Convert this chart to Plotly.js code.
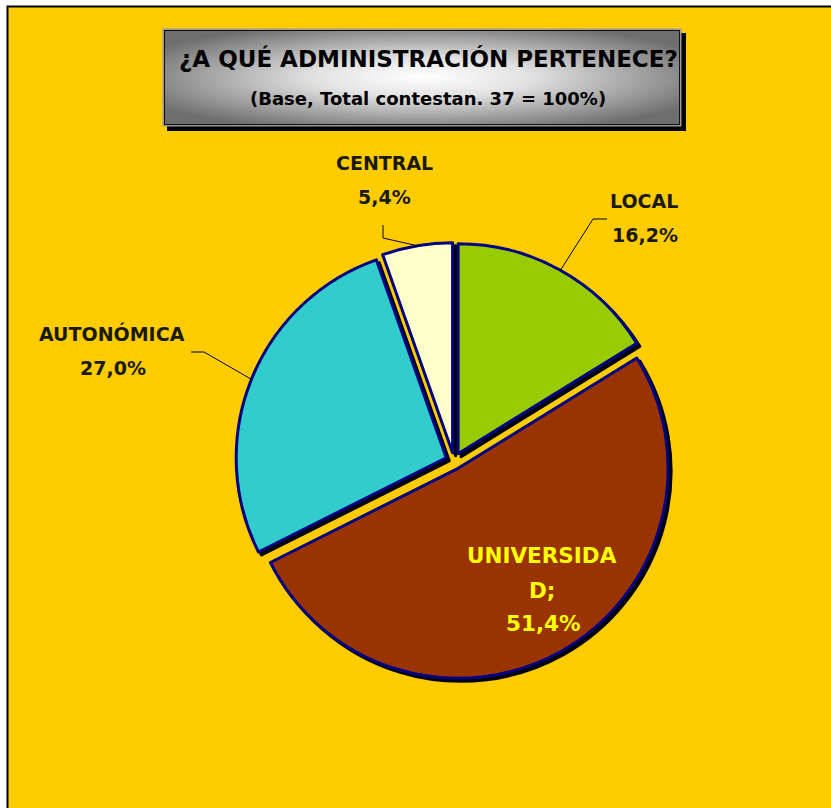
<!DOCTYPE html>
<html>
<head>
<meta charset="utf-8">
<script src="https://cdn.plot.ly/plotly-3.0.1.min.js"></script>
<style>
html,body{margin:0;padding:0;background:#ffffff;}
#chart{width:831px;height:808px;}
</style>
</head>
<body>
<div id="chart"></div>
<script>
// ---- data ----
const labels = ['LOCAL', 'UNIVERSIDAD', 'AUTONÓMICA', 'CENTRAL'];
const values = [16.2, 51.4, 27.0, 5.4];
const titleText = '¿A QUÉ ADMINISTRACIÓN PERTENECE?';
const subtitleText = '(Base, Total contestan. 37 = 100%)';

// ---- styles ----
const sliceColors = ['#99CC00', '#993300', '#33CCCC', '#FFFFCC'];
const W = 831, H = 808;
const FONT = 'DejaVu Sans, Verdana, sans-serif';

// pie geometry (pixels)
const CX = 454, CY = 461, R = 210, PULL = 0.04;
const boxHalf = R * (1 + PULL);
const dom = {
  x: [(CX - boxHalf) / W, (CX + boxHalf) / W],
  y: [1 - (CY + boxHalf) / H, 1 - (CY - boxHalf) / H]
};
const SH = 3; // shadow offset px
const domShadow = {
  x: [dom.x[0] + SH / W, dom.x[1] + SH / W],
  y: [dom.y[0] - SH / H, dom.y[1] - SH / H]
};

const pct = values.map(v => v.toFixed(1).replace('.', ',') + '%');

const px = x => x / W;
const py = y => 1 - y / H;

// edge point of each pulled slice at its bisector
const total = values.reduce((a, b) => a + b, 0);
let cum = 0;
const edge = values.map(v => {
  const mid = (cum + v / 2) / total * 2 * Math.PI; cum += v;
  const dx = Math.sin(mid), dy = -Math.cos(mid);
  const d = PULL * R;
  return [CX + dx * (d + R), CY + dy * (d + R)];
});

const shadowTrace = {
  type: 'pie', values: values, labels: labels, sort: false,
  direction: 'clockwise', rotation: 0, pull: PULL,
  domain: domShadow, textinfo: 'none', hoverinfo: 'skip', showlegend: false,
  marker: {colors: values.map(() => '#000000'), line: {color: '#000000', width: 3}}
};
const pieTrace = {
  type: 'pie', values: values, labels: labels, sort: false,
  direction: 'clockwise', rotation: 0, pull: PULL,
  domain: dom, textinfo: 'none', hoverinfo: 'label+percent', showlegend: false,
  marker: {colors: sliceColors, line: {color: '#000080', width: 3}}
};

// label annotations
const lab = (text, x, y, size, color) => ({
  text: '<b>' + text + '</b>', x: px(x), y: py(y), xref: 'paper', yref: 'paper',
  xanchor: 'center', yanchor: 'middle', showarrow: false,
  font: {family: FONT, size: size, color: color}
});
const uni = labels[1];
const annotations = [
  lab(titleText, 428, 59, 23, '#000000'),
  lab(subtitleText, 428, 98, 18, '#000000'),
  lab(labels[3], 384, 163, 19, '#1a1a00'),
  lab(pct[3], 384, 197, 19, '#1a1a00'),
  lab(labels[0], 644, 201, 19, '#1a1a00'),
  lab(pct[0], 645, 235, 19, '#1a1a00'),
  lab(labels[2], 112, 334, 19, '#1a1a00'),
  lab(pct[2], 113, 368, 19, '#1a1a00'),
  lab(uni.slice(0, 10), 542, 555, 21.5, '#FFFF00'),
  lab(uni.slice(10) + ';', 542, 590, 21.5, '#FFFF00'),
  lab(pct[1], 543, 623, 21.5, '#FFFF00')
];

const pathOf = pts => 'M ' + pts.map(p => px(p[0]) + ',' + py(p[1])).join(' L ');
const shapes = [
  {type: 'rect', xref: 'paper', yref: 'paper', layer: 'below',
   x0: px(7.5), x1: 1.02, y0: -0.02, y1: py(6.5),
   fillcolor: '#FFCC00', line: {color: '#000000', width: 2}},
  {type: 'path', xref: 'paper', yref: 'paper', layer: 'above',
   path: pathOf([[383, 225], [383, 238], edge[3]]), line: {color: '#000000', width: 1}},
  {type: 'path', xref: 'paper', yref: 'paper', layer: 'above',
   path: pathOf([[607, 219], [593, 219], edge[0]]), line: {color: '#000000', width: 1}},
  {type: 'path', xref: 'paper', yref: 'paper', layer: 'above',
   path: pathOf([[191, 352], [204, 352], edge[2]]), line: {color: '#000000', width: 1}}
];

// title box (gradient panel with shadow)
const BW = 525, BH = 104;
const svg = '<svg xmlns="http://www.w3.org/2000/svg" width="' + BW + '" height="' + BH + '">' +
  '<defs><radialGradient id="g" cx="0.5" cy="0.5" r="0.6">' +
  '<stop offset="0" stop-color="#ffffff"/><stop offset="0.35" stop-color="#e2e2e2"/>' +
  '<stop offset="1" stop-color="#6e6e6e"/></radialGradient></defs>' +
  '<rect x="5" y="5" width="519" height="98" fill="#000000"/>' +
  '<rect x="0.5" y="0.5" width="519" height="98" fill="#9a9a9a"/>' +
  '<rect x="2.5" y="2.5" width="515" height="94" fill="url(#g)" stroke="#111111" stroke-width="1"/>' +
  '</svg>';
const images = [{
  source: 'data:image/svg+xml;charset=utf-8,' + encodeURIComponent(svg),
  xref: 'paper', yref: 'paper', x: px(162), y: py(28),
  sizex: BW / W, sizey: BH / H, xanchor: 'left', yanchor: 'top',
  sizing: 'stretch', layer: 'above'
}];

const layout = {
  width: W, height: H,
  margin: {l: 0, r: 0, t: 0, b: 0},
  paper_bgcolor: '#ffffff',
  showlegend: false,
  shapes: shapes, annotations: annotations, images: images
};

Plotly.newPlot('chart', [shadowTrace, pieTrace], layout, {displayModeBar: false, staticPlot: true});
</script>
</body>
</html>
